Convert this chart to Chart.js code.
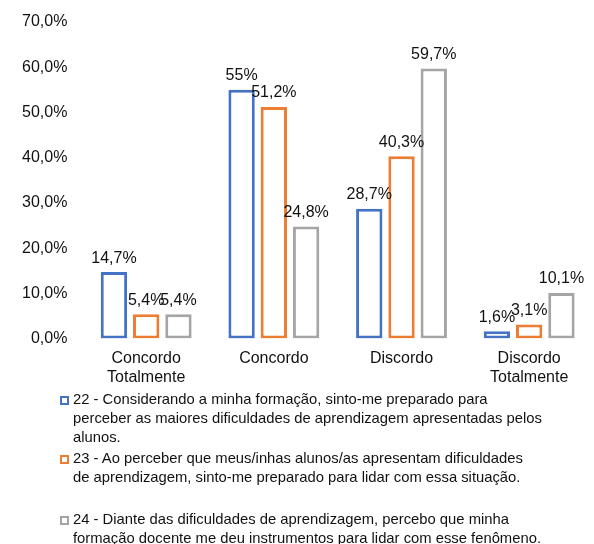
<!DOCTYPE html>
<html>
<head>
<meta charset="utf-8">
<script src="https://cdn.jsdelivr.net/npm/chart.js@4.4.1/dist/chart.umd.min.js"></script>
<style>
  body { margin: 0; background: #fff; font-family: "Liberation Sans", Arial, sans-serif; }
  #wrap { position: relative; width: 594px; height: 397px; }
  #legend { position: absolute; left: 60px; top: 390px; width: 534px; font-size: 14.8px; line-height: 19px; color: #111; }
  .item { position: relative; padding-left: 13px; margin-bottom: 2px; }
  .item.gap { margin-bottom: 4px; }
  .item .box { position: absolute; left: 0; top: 6px; width: 5px; height: 5px; border: 2px solid; }
</style>
</head>
<body>
<div id="wrap"><canvas id="chart"></canvas></div>
<div id="legend"></div>
<script>
// categories and values (percent)
const categories = [['Concordo', 'Totalmente'], 'Concordo', 'Discordo', ['Discordo', 'Totalmente']];
const q22 = [14.7, 55, 28.7, 1.6];
const q23 = [5.4, 51.2, 40.3, 3.1];
const q24 = [5.4, 24.8, 59.7, 10.1];
const q22Labels = ['14,7%', '55%', '28,7%', '1,6%'];
const q23Labels = ['5,4%', '51,2%', '40,3%', '3,1%'];
const q24Labels = ['5,4%', '24,8%', '59,7%', '10,1%'];
const seriesNames = [
    ['22 - Considerando a minha formação, sinto-me preparado para', 'perceber as maiores dificuldades de aprendizagem apresentadas pelos', 'alunos.'],
    ['23 - Ao perceber que meus/inhas alunos/as apresentam dificuldades', 'de aprendizagem, sinto-me preparado para lidar com essa situação.', ''],
    ['24 - Diante das dificuldades de aprendizagem, percebo que minha', 'formação docente me deu instrumentos para lidar com esse fenômeno.']
];
const colors = ['#4472C4', '#ED7D31', '#A5A5A5'];
const fontFamily = '"Liberation Sans", Arial, sans-serif';

// draw value labels above each bar
const valueLabels = {
    id: 'valueLabels',
    afterDatasetsDraw(chart) {
        const ctx = chart.ctx;
        ctx.save();
        ctx.font = '16px ' + fontFamily;
        ctx.fillStyle = '#111';
        ctx.textAlign = 'center';
        ctx.textBaseline = 'bottom';
        chart.data.datasets.forEach((ds, i) => {
            chart.getDatasetMeta(i).data.forEach((bar, j) => {
                ctx.fillText(ds.labelsText[j], bar.x, bar.y - 6);
            });
        });
        ctx.restore();
    }
};

const ctx = document.getElementById('chart').getContext('2d');
new Chart(ctx, {
    type: 'bar',
    data: {
        labels: categories,
        datasets: [q22, q23, q24].map((d, i) => ({
            label: seriesNames[i].join(' '),
            data: d,
            labelsText: [q22Labels, q23Labels, q24Labels][i],
            backgroundColor: '#ffffff',
            borderColor: colors[i],
            borderWidth: 3,
            borderSkipped: false,
            categoryPercentage: 0.758,
            barPercentage: 0.817
        }))
    },
    options: {
        responsive: true,
        maintainAspectRatio: false,
        animation: false,
        layout: { padding: { left: 15, right: 1, top: 22, bottom: 0 } },
        scales: {
            y: {
                min: 0,
                max: 70,
                ticks: {
                    stepSize: 10,
                    padding: 7,
                    color: '#111',
                    font: { size: 16, family: fontFamily },
                    callback: v => v.toFixed(1).replace('.', ',') + '%'
                },
                grid: { display: false, drawTicks: true, tickLength: 8 },
                border: { display: false }
            },
            x: {
                ticks: {
                    color: '#111',
                    padding: 10,
                    font: { size: 16, family: fontFamily, lineHeight: 1.2 }
                },
                grid: { display: false, drawTicks: false },
                border: { display: false }
            }
        },
        plugins: {
            legend: { display: false },
            tooltip: { enabled: false }
        }
    },
    plugins: [valueLabels]
});

// legend with wrapped lines
const legend = document.getElementById('legend');
seriesNames.forEach((lines, i) => {
    const div = document.createElement('div');
    div.className = 'item' + (i === 1 ? ' gap' : '');
    div.innerHTML = '<span class="box" style="border-color:' + colors[i] + '"></span>' +
        lines.map(l => l === '' ? '&nbsp;' : l).join('<br>');
    legend.appendChild(div);
});
</script>
</body>
</html>
